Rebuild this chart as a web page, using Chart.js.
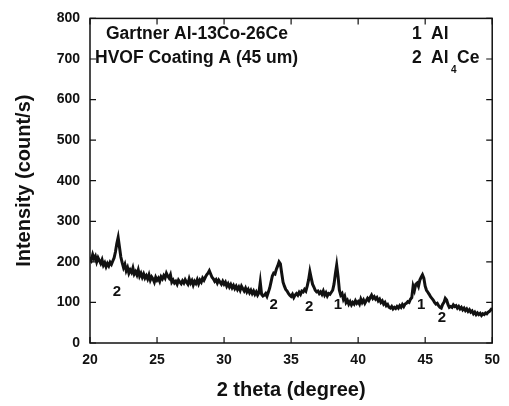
<!DOCTYPE html>
<html>
<head>
<meta charset="utf-8">
<script src="https://cdn.jsdelivr.net/npm/chart.js@4"></script>
<style>
  html, body { margin: 0; padding: 0; background: #fff; }
  #wrap { width: 509px; height: 406px; }
</style>
</head>
<body>
<div id="wrap"><canvas id="xrd"></canvas></div>
<script>
// intensity (count/s), every 0.1 degree from 20.0 to 50.0
var intensity = [
  212, 205, 218, 208, 214, 200, 210, 203, 196, 205,
  192, 198, 188, 196, 190, 199, 194, 202, 210, 225,
  245, 260, 236, 212, 198, 186, 194, 178, 186, 172,
  180, 174, 185, 170, 176, 168, 180, 165, 172, 162,
  170, 160, 166, 158, 168, 155, 163, 158, 150, 162,
  155, 160, 152, 163, 158, 166, 160, 172, 165, 160,
  168, 150, 155, 148, 152, 145, 155, 150, 146, 153,
  148, 156, 150, 145, 158, 148, 154, 143, 152, 147,
  156, 146, 155, 150, 160, 155, 162, 168, 172, 178,
  170, 162, 158, 152, 156, 148, 155, 150, 145, 152,
  145, 150, 140, 146, 138, 144, 136, 142, 134, 140,
  132, 138, 130, 140, 134, 128, 135, 126, 132, 124,
  130, 122, 128, 120, 126, 118, 124, 150, 120, 116,
  118, 122, 115, 125, 135, 150, 165, 172, 170, 182,
  190, 200, 195, 172, 150, 140, 132, 128, 122, 118,
  115, 120, 112, 118, 122, 118, 125, 120, 128, 126,
  132, 128, 140, 155, 176, 160, 145, 138, 130, 126,
  128, 122, 126, 120, 128, 118, 124, 116, 122, 120,
  125, 130, 145, 170, 192, 165, 130, 118, 122, 108,
  115, 100, 105, 96, 102, 94, 100, 96, 104, 98,
  102, 96, 108, 100, 106, 98, 104, 110, 105, 112,
  118, 110, 114, 108, 112, 104, 108, 100, 104, 96,
  100, 92, 95, 88, 86, 90, 84, 88, 85, 90,
  86, 92, 88, 95, 90, 96, 98, 102, 100, 108,
  112, 140, 130, 145, 148, 140, 155, 162, 168, 160,
  140, 130, 125, 120, 114, 110, 106, 100, 96, 98,
  92, 88, 86, 95, 100, 110, 106, 95, 88, 90,
  88, 94, 90, 92, 86, 90, 84, 88, 82, 86,
  80, 84, 78, 82, 76, 79, 72, 76, 70, 74,
  70, 73, 68, 72, 70, 74, 72, 76, 78, 82,
  86
];
var twoTheta = intensity.map(function (_, i) { return +(20 + i * 0.1).toFixed(1); });

// phase markers under the peaks
var peakText = ['2', '2', '2', '1', '1', '2'];
var peakX = [22.0, 33.7, 36.35, 38.5, 44.7, 46.25];
var peakY = [127, 93, 88, 93, 93, 61];

var xTicks = [20, 25, 30, 35, 40, 45, 50];
var yTicks = [0, 100, 200, 300, 400, 500, 600, 700, 800];

var FONT = '"Liberation Sans", Arial, sans-serif';

var frame = {
  id: 'frame',
  afterDraw: function (chart) {
    var ctx = chart.ctx, a = chart.chartArea;
    var sx = chart.scales.x, sy = chart.scales.y;
    ctx.save();
    ctx.strokeStyle = '#111';
    ctx.lineWidth = 1.5;
    ctx.strokeRect(a.left, a.top, a.right - a.left, a.bottom - a.top);
    ctx.lineWidth = 1.2;
    ctx.beginPath();
    xTicks.forEach(function (v) {
      var px = sx.getPixelForValue(v);
      ctx.moveTo(px, a.bottom); ctx.lineTo(px, a.bottom - 6);
      ctx.moveTo(px, a.top); ctx.lineTo(px, a.top + 6);
    });
    yTicks.forEach(function (v) {
      var py = sy.getPixelForValue(v);
      ctx.moveTo(a.left, py); ctx.lineTo(a.left + 6, py);
      ctx.moveTo(a.right, py); ctx.lineTo(a.right - 6, py);
    });
    ctx.stroke();

    ctx.fillStyle = '#111';
    ctx.textBaseline = 'middle';
    ctx.font = 'bold 17.5px ' + FONT;
    ctx.textAlign = 'left';
    ctx.fillText('Gartner Al-13Co-26Ce', 106, 34);
    ctx.fillText('HVOF Coating A (45 um)', 95, 58);
    ctx.fillText('1', 412, 34);
    ctx.fillText('Al', 431, 34);
    ctx.fillText('2', 412, 58);
    ctx.fillText('Al', 431, 58);
    ctx.font = 'bold 10px ' + FONT;
    ctx.fillText('4', 451, 70);
    ctx.font = 'bold 17.5px ' + FONT;
    ctx.fillText('Ce', 457, 58);

    ctx.font = 'bold 15px ' + FONT;
    ctx.textAlign = 'center';
    peakText.forEach(function (t, i) {
      ctx.fillText(t, sx.getPixelForValue(peakX[i]), sy.getPixelForValue(peakY[i]));
    });
    ctx.restore();
  }
};

new Chart(document.getElementById('xrd'), {
  type: 'line',
  data: {
    datasets: [{
      data: twoTheta.map(function (x, i) { return { x: x, y: intensity[i] }; }),
      borderColor: '#111',
      borderWidth: 3,
      pointRadius: 0,
      tension: 0
    }]
  },
  options: {
    responsive: true,
    maintainAspectRatio: false,
    animation: false,
    layout: { padding: { top: 15, right: 10, left: 0, bottom: 0 } },
    plugins: { legend: { display: false }, tooltip: { enabled: false } },
    scales: {
      x: {
        type: 'linear',
        min: 20,
        max: 50,
        grid: { display: false, drawTicks: false },
        border: { display: false },
        afterFit: function (s) { s.height = 63; },
        ticks: {
          stepSize: 5,
          padding: 9,
          color: '#111',
          font: { size: 14, weight: 'bold', family: FONT }
        },
        title: {
          display: true,
          text: '2 theta (degree)',
          color: '#111',
          padding: { top: 4 },
          font: { size: 20, weight: 'bold', family: FONT }
        }
      },
      y: {
        min: 0,
        max: 800,
        grid: { display: false, drawTicks: false },
        border: { display: false },
        afterFit: function (s) { s.width = 90; },
        ticks: {
          stepSize: 100,
          padding: 10,
          color: '#111',
          font: { size: 14, weight: 'bold', family: FONT }
        },
        title: {
          display: true,
          text: 'Intensity (count/s)',
          color: '#111',
          padding: { top: 12, bottom: 4 },
          font: { size: 20, weight: 'bold', family: FONT }
        }
      }
    }
  },
  plugins: [frame]
});
</script>
</body>
</html>
